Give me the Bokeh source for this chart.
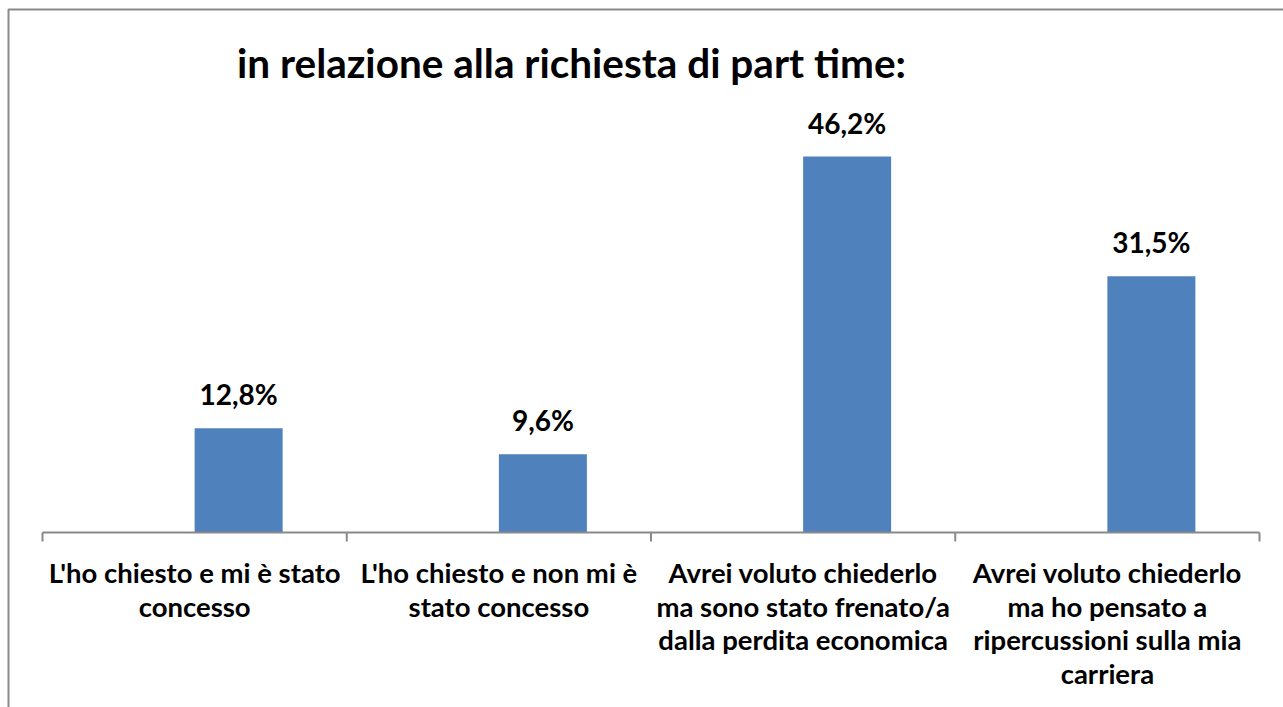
from bokeh.plotting import figure
from bokeh.models import Range1d, ColumnDataSource
from bokeh.core.properties import value
from bokeh.embed import file_html
from bokeh.resources import INLINE

# ---- data ----
title_text = "in relazione alla richiesta di part time:"
categories = [
    "L'ho chiesto e mi è stato\nconcesso",
    "L'ho chiesto e non mi è\nstato concesso",
    "Avrei voluto chiederlo\nma sono stato frenato/a\ndalla perdita economica",
    "Avrei voluto chiederlo\nma ho pensato a\nripercussioni sulla mia\ncarriera",
]
values = [12.8, 9.6, 46.2, 31.5]

# ---- layout (pixel geometry of the canvas) ----
W, H = 1283, 707
AX_LEFT, AX_RIGHT = 42, 1259        # axis extent in px
BASE_Y = 532                        # zero line in px from top
PX_PER_CAT = (AX_RIGHT - AX_LEFT) / len(categories)
PX_PER_UNIT = 8.1385                # px per percentage point
FONT = "Lato"
BAR_COLOR = "#4F81BD"
GRID_GRAY = "#898989"

def dx(px):
    return (px - AX_LEFT) / PX_PER_CAT

def dy(py):
    return (BASE_Y - py) / PX_PER_UNIT

p = figure(width=W, height=H, output_backend="svg", toolbar_location=None,
           x_range=Range1d(dx(0), dx(W)), y_range=Range1d(dy(H), dy(0)),
           min_border=0, min_border_left=0, min_border_right=0,
           min_border_top=0, min_border_bottom=0)
p.axis.visible = False
p.grid.visible = False
p.outline_line_color = None
p.background_fill_color = "white"
p.border_fill_color = "white"

# outer frame (left and top edges visible)
p.line(x=[dx(8), dx(8), dx(W + 20)], y=[dy(H + 20), dy(9), dy(9)],
       line_color=GRID_GRAY, line_width=2)

# bars: left edge at category centre
bar_w = 88 / PX_PER_CAT
lefts = [i + 0.5 for i in range(len(values))]
rights = [l + bar_w for l in lefts]
src = ColumnDataSource(dict(left=lefts, right=rights, top=values,
                            bottom=[0] * len(values),
                            mid=[(l + r) / 2 for l, r in zip(lefts, rights)],
                            lab=[f"{v:.1f}".replace(".", ",") + "%" for v in values]))
p.quad(left="left", right="right", top="top", bottom="bottom", source=src,
       fill_color=BAR_COLOR, line_color=None)

# value labels
p.text(x="mid", y="top", text="lab", source=src, y_offset=-34,
       text_align="center", text_baseline="alphabetic",
       text_font=value(FONT), text_font_style="bold",
       text_font_size="28px", text_color="black")

# category axis line and ticks
n = len(categories)
p.line(x=[0, n], y=[0, 0], line_color=GRID_GRAY, line_width=2)
tick_len = 9 / PX_PER_UNIT
p.segment(x0=list(range(n + 1)), x1=list(range(n + 1)),
          y0=[0] * (n + 1), y1=[-tick_len] * (n + 1),
          line_color=GRID_GRAY, line_width=2)

# category labels, line by line
lx, ly, lt = [], [], []
first_base = 572
line_step = 33.7
for i, c in enumerate(categories):
    for k, line in enumerate(c.split("\n")):
        lx.append(i + 0.5)
        ly.append(dy(first_base + k * line_step))
        lt.append(line)
p.text(x=lx, y=ly, text=lt, text_align="center", text_baseline="alphabetic",
       text_font=value(FONT), text_font_style="bold",
       text_font_size="27.5px", text_color="black")

# title
p.text(x=[dx(571)], y=[dy(62)], text=[title_text], text_align="center",
       text_baseline="alphabetic", text_font=value(FONT),
       text_font_style="bold", text_font_size="40.5px", text_color="black")

open("out.html", "w").write(file_html(p, INLINE))
